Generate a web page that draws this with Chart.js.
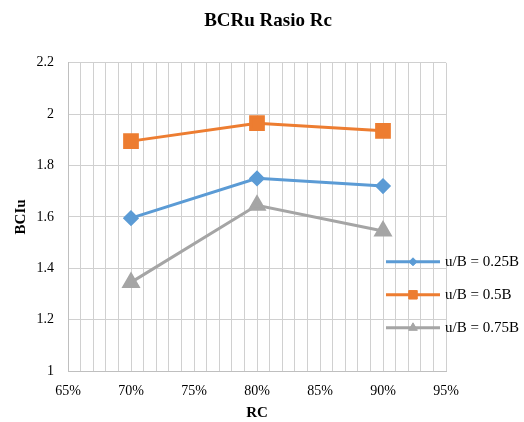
<!DOCTYPE html>
<html>
<head>
<meta charset="utf-8">
<script src="https://cdn.jsdelivr.net/npm/chart.js@4"></script>
<style>
  body { margin: 0; background: #fff; }
  #wrap { width: 524px; height: 422px; }
</style>
</head>
<body>
<div id="wrap"><canvas id="c"></canvas></div>
<script>
// RC values (percent)
const rcPercent = [70, 80, 90];
const series025 = [1.595, 1.75, 1.72];
const series05 = [1.895, 1.965, 1.935];
const series075 = [1.345, 1.645, 1.545];
const seriesNames = ['u/B = 0.25B', 'u/B = 0.5B', 'u/B = 0.75B'];
const xTickLabels = [65, 70, 75, 80, 85, 90, 95];
const yTickLabels = [1, 1.2, 1.4, 1.6, 1.8, 2, 2.2];

const serif = 'Liberation Serif, Times New Roman, serif';
const legendMarkerSize = { rectRot: 4, rect: 6, triangle: 5 };

function toPoints(vals) {
    return rcPercent.map(function (x, i) { return { x: x, y: vals[i] }; });
}

// legend drawn on top of the plot, like the original
const sideLegend = {
    id: 'sideLegend',
    afterDraw: function (chart) {
        const ctx = chart.ctx;
        const area = chart.chartArea;
        chart.data.datasets.forEach(function (ds, i) {
            const y = area.top + 199 + i * 33;
            const x0 = area.right - 60;
            const x1 = area.right - 6;
            ctx.save();
            ctx.strokeStyle = ds.borderColor;
            ctx.fillStyle = ds.borderColor;
            ctx.lineWidth = 3;
            ctx.beginPath();
            ctx.moveTo(x0, y);
            ctx.lineTo(x1, y);
            ctx.stroke();
            ctx.lineWidth = 1;
            Chart.helpers.drawPoint(ctx, {
                pointStyle: ds.pointStyle,
                radius: legendMarkerSize[ds.pointStyle],
                rotation: 0,
                borderWidth: 1
            }, (x0 + x1) / 2, y);
            ctx.fillStyle = '#000';
            ctx.font = '15px ' + serif;
            ctx.textAlign = 'left';
            ctx.textBaseline = 'middle';
            ctx.fillText(ds.label, x1 + 5, y);
            ctx.restore();
        });
    }
};

const ctx = document.getElementById('c');
new Chart(ctx, {
    type: 'line',
    data: {
        datasets: [
            {
                label: seriesNames[0],
                data: toPoints(series025),
                borderColor: '#5B9BD5',
                backgroundColor: '#5B9BD5',
                borderWidth: 3,
                pointStyle: 'rectRot',
                pointRadius: 6,
                pointHoverRadius: 6
            },
            {
                label: seriesNames[1],
                data: toPoints(series05),
                borderColor: '#ED7D31',
                backgroundColor: '#ED7D31',
                borderWidth: 3,
                pointStyle: 'rect',
                pointRadius: 9,
                pointHoverRadius: 9
            },
            {
                label: seriesNames[2],
                data: toPoints(series075),
                borderColor: '#A5A5A5',
                backgroundColor: '#A5A5A5',
                borderWidth: 3,
                pointStyle: 'triangle',
                pointRadius: 8,
                pointHoverRadius: 8
            }
        ]
    },
    options: {
        responsive: true,
        maintainAspectRatio: false,
        animation: false,
        layout: { padding: { left: 12, right: 0, top: 0, bottom: 0 } },
        plugins: {
            legend: { display: false },
            tooltip: { enabled: false },
            title: {
                display: true,
                text: 'BCRu Rasio Rc',
                color: '#000',
                font: { family: serif, size: 19, weight: 'bold' },
                padding: { top: 10, bottom: 30 }
            }
        },
        scales: {
            x: {
                type: 'linear',
                min: xTickLabels[0],
                max: xTickLabels[xTickLabels.length - 1],
                afterFit: function (scale) { scale.height = 51; },
                afterBuildTicks: function (scale) {
                    const t = [];
                    for (let v = scale.min; v <= scale.max; v++) t.push({ value: v });
                    scale.ticks = t;
                },
                ticks: {
                    autoSkip: false,
                    maxRotation: 0,
                    padding: 12,
                    color: '#000',
                    font: { family: serif, size: 14 },
                    callback: function (v) {
                        return xTickLabels.indexOf(v) >= 0 ? v + '%' : '';
                    }
                },
                grid: { color: '#d0d0d0', drawTicks: false },
                border: { color: '#bfbfbf' },
                title: {
                    display: true,
                    text: 'RC',
                    color: '#000',
                    font: { family: serif, size: 15, weight: 'bold' },
                    padding: { top: 0, bottom: 0 }
                }
            },
            y: {
                min: yTickLabels[0],
                max: yTickLabels[yTickLabels.length - 1],
                afterFit: function (scale) { scale.width = 56; },
                afterBuildTicks: function (scale) {
                    scale.ticks = yTickLabels.map(function (v) { return { value: v }; });
                },
                ticks: {
                    padding: 14,
                    color: '#000',
                    font: { family: serif, size: 14 },
                    callback: function (v) { return String(parseFloat(v.toFixed(1))); }
                },
                grid: { color: '#d0d0d0', drawTicks: false },
                border: { color: '#bfbfbf' },
                title: {
                    display: true,
                    text: 'BCIu',
                    color: '#000',
                    font: { family: serif, size: 15, weight: 'bold' },
                    padding: { top: 0, bottom: 0 }
                }
            },
            // empty right-hand space where the legend sits
            yRight: {
                position: 'right',
                display: true,
                afterFit: function (scale) { scale.width = 78; },
                ticks: { display: false },
                grid: { display: false, drawTicks: false },
                border: { display: false }
            }
        }
    },
    plugins: [sideLegend]
});
</script>
</body>
</html>
